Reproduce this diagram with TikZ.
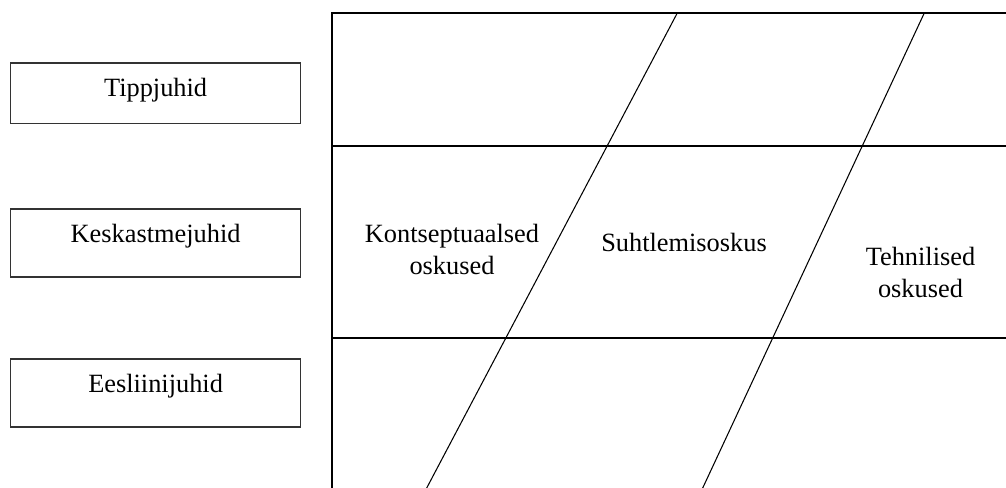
\documentclass[tikz,border=0pt]{standalone}
\usepackage{fontspec}
\setmainfont{Liberation Serif}
\usetikzlibrary{positioning}

\begin{document}
\begin{tikzpicture}[
    level/.style={
      draw=black!80,
      line width=0.7pt,
      minimum width=5.8cm,
      inner sep=0pt,
      text height=0.67cm,
      anchor=north west,
      font=\fontsize{15}{18.3}\selectfont
    },
    skill/.style={
      anchor=base,
      align=center,
      font=\fontsize{15}{18.3}\selectfont
    },
    frame/.style={line width=1.1pt},
    slant/.style={line width=0.6pt}
  ]
    \useasboundingbox (0,0) rectangle (20.12,9.76);

    % management levels
    \node[level, text depth=0.54cm] (tipp) at (0.2,8.514) {Tippjuhid};
    \node[level, text depth=0.69cm] (kesk) at (0.2,5.594) {Keskastmejuhid};
    \node[level, text depth=0.69cm] (eesliin) at (0.2,2.594) {Eesliinijuhid};

    % skill table
    \coordinate (nw) at (6.64,9.5);
    \coordinate (ne) at (20.12,9.5);
    \coordinate (sw) at (6.64,0);
    \coordinate (r1w) at (6.64,6.84);
    \coordinate (r1e) at (20.12,6.84);
    \coordinate (r2w) at (6.64,3.0);
    \coordinate (r2e) at (20.12,3.0);

    \draw[frame] (ne) -- (nw) -- (sw);
    \draw[frame] (r1w) -- (r1e);
    \draw[frame] (r2w) -- (r2e);

    \coordinate (d1t) at (13.546,9.5);
    \coordinate (d1b) at (8.534,0);
    \coordinate (d2t) at (18.486,9.5);
    \coordinate (d2b) at (14.054,0);
    \draw[slant] (d1t) -- (d1b);
    \draw[slant] (d2t) -- (d2b);

    % base sits on the last line
    \node[skill] (kontsept) at (9.04,4.274) {Kontseptuaalsed\\oskused};
    \node[skill] (suhtlus) at (13.68,4.726) {Suhtlemisoskus};
    \node[skill] (tehn) at (18.41,3.8) {Tehnilised\\oskused};
  \end{tikzpicture}
\end{document}
